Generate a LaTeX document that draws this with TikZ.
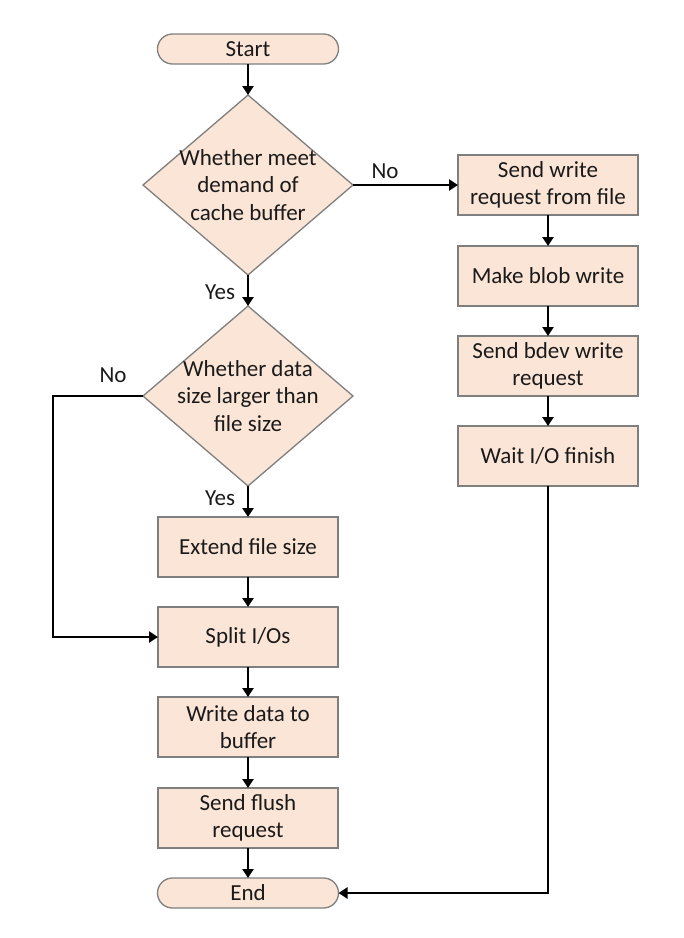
\documentclass[tikz,border=0pt]{standalone}
\usepackage{fontspec}
\setmainfont{Carlito}
\usetikzlibrary{shapes.geometric,arrows.meta}
\definecolor{boxfill}{HTML}{FBE5D6}
\definecolor{boxline}{HTML}{7F7F7F}
\definecolor{txt}{HTML}{1A1A1A}
\begin{document}
\begin{tikzpicture}[x=1pt,y=-1pt,
  every node/.style={font=\fontsize{23}{27.5}\selectfont, text=txt, outer sep=0pt},
  proc/.style={draw=boxline, line width=1.3pt, fill=boxfill, minimum width=180pt, minimum height=60pt, inner sep=0pt, align=center},
  term/.style={draw=boxline, line width=1.3pt, fill=boxfill, rounded corners=15pt, minimum width=181pt, minimum height=30pt, inner sep=0pt},
  dec/.style={draw=boxline, line width=1.3pt, fill=boxfill, diamond, minimum width=210pt, minimum height=180pt, inner sep=0pt},
  conn/.style={line width=2.3pt, -{Triangle[length=9pt,width=11pt]}},
  lbl/.style={inner sep=0pt}]
\useasboundingbox (0,0) rectangle (684,938);
\node[term] (start) at (248,49) {Start};
\node[dec, label={[align=center,font=\fontsize{23}{27.5}\selectfont,text=txt]center:Whether meet\\demand of\\cache buffer}] (d1) at (248,185) {};
\node[dec, label={[align=center,font=\fontsize{23}{27.5}\selectfont,text=txt]center:Whether data\\size larger than\\file size}] (d2) at (248,396) {};
\node[proc] (ext) at (248,547) {Extend file size};
\node[proc] (split) at (248,637) {Split I/Os};
\node[proc] (wbuf) at (248,727) {Write data to\\buffer};
\node[proc] (flush) at (248,818) {Send flush\\request};
\node[term] (end) at (248,893) {End};
\node[proc] (r1) at (548,185) {Send write\\request from file};
\node[proc] (r2) at (548,276) {Make blob write};
\node[proc] (r3) at (548,366) {Send bdev write\\request};
\node[proc] (r4) at (548,456) {Wait I/O finish};
\coordinate (c1) at (53,396);
\node[lbl] (lno1) at (385,171) {No};
\node[lbl] (lyes1) at (220,292) {Yes};
\node[lbl] (lno2) at (113,375) {No};
\node[lbl] (lyes2) at (220,498) {Yes};
\draw[conn] (start) -- (d1.north);
\draw[conn] (d1.south) -- (d2.north);
\draw[conn] (d1.east) -- (r1.west);
\draw[conn] (r1) -- (r2);
\draw[conn] (r2) -- (r3);
\draw[conn] (r3) -- (r4);
\draw[conn] (r4.south) |- (end.east);
\draw[conn] (d2.south) -- (ext.north);
\draw[conn] (d2.west) -- (c1) |- (split.west);
\draw[conn] (ext) -- (split);
\draw[conn] (split) -- (wbuf);
\draw[conn] (wbuf) -- (flush);
\draw[conn] (flush) -- (end);
\end{tikzpicture}
\end{document}
